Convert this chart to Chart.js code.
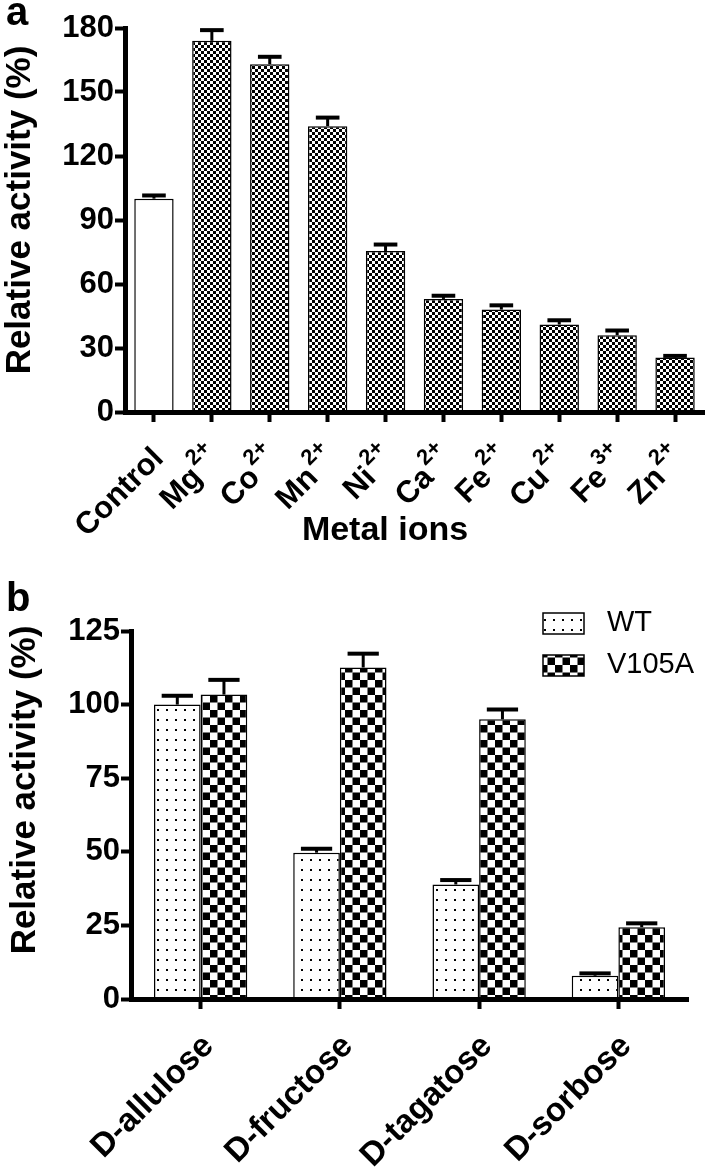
<!DOCTYPE html>
<html>
<head>
<meta charset="utf-8">
<script src="https://cdn.jsdelivr.net/npm/chart.js@4.4.0/dist/chart.umd.min.js"></script>
<style>
  body { margin: 0; background: #fff; }
  canvas { position: absolute; left: 0; }
  #chartA { top: 0; }
  #chartB { top: 575px; }
</style>
</head>
<body>
<canvas id="chartA" width="710" height="575"></canvas>
<canvas id="chartB" width="710" height="600"></canvas>
<script>
// panel a - metal ions
const ionNames = ['Control', 'Mg', 'Co', 'Mn', 'Ni', 'Ca', 'Fe', 'Cu', 'Fe', 'Zn'];
const ionCharges = ['', '2+', '2+', '2+', '2+', '2+', '2+', '2+', '3+', '2+'];
const ionActivity = [100, 174, 163, 134, 75.5, 53, 48, 41, 36, 25.5];
const ionError = [1.5, 5, 3.5, 4, 3, 1.5, 2, 2, 2.2, 0.8];
const ionTicks = [0, 30, 60, 90, 120, 150, 180];

// panel b - substrates
const substrates = ['D-allulose', 'D-fructose', 'D-tagatose', 'D-sorbose'];
const wtActivity = [100, 49.7, 38.9, 7.9];
const wtError = [3, 1.3, 1.5, 0.8];
const mutActivity = [103.4, 112.6, 95, 24.4];
const mutError = [5, 4.7, 3.3, 1.3];
const substrateTicks = [0, 25, 50, 75, 100, 125];

const family = '"Liberation Sans", Arial, Helvetica, sans-serif';
Chart.defaults.font.family = family;
Chart.defaults.color = '#000';

function makePattern(w, h, draw) {
  const c = document.createElement('canvas');
  c.width = w;
  c.height = h;
  const g = c.getContext('2d');
  g.fillStyle = '#fff';
  g.fillRect(0, 0, w, h);
  g.fillStyle = '#000';
  draw(g);
  return g.createPattern(c, 'repeat');
}

const fineChecker = makePattern(6, 6, g => {
  g.fillRect(0, 0, 3, 3);
  g.fillRect(3, 3, 3, 3);
});
const dots = makePattern(9, 10, g => {
  g.fillRect(4, 4, 2, 2);
});
const coarseChecker = makePattern(15, 15, g => {
  g.fillRect(0, 0, 7.5, 7.5);
  g.fillRect(7.5, 7.5, 7.5, 7.5);
});

// upper error bars, placed with the y scale
const errorBars = {
  id: 'errorBars',
  afterDatasetsDraw(chart, args, opts) {
    const ctx = chart.ctx;
    const y = chart.scales.y;
    ctx.save();
    ctx.strokeStyle = '#000';
    chart.data.datasets.forEach((ds, di) => {
      chart.getDatasetMeta(di).data.forEach((bar, i) => {
        const top = y.getPixelForValue(ds.data[i] + ds.errors[i]);
        const half = bar.width * opts.cap / 2;
        ctx.lineWidth = 3;
        ctx.beginPath();
        ctx.moveTo(bar.x, bar.y);
        ctx.lineTo(bar.x, top);
        ctx.stroke();
        ctx.lineWidth = 4;
        ctx.beginPath();
        ctx.moveTo(bar.x - half, top);
        ctx.lineTo(bar.x + half, top);
        ctx.stroke();
      });
    });
    ctx.restore();
  }
};

function drawText(ctx, text, x, y, font, align, rot) {
  ctx.save();
  ctx.translate(x, y);
  if (rot) ctx.rotate(rot);
  ctx.font = font;
  ctx.fillStyle = '#000';
  ctx.textAlign = align || 'left';
  ctx.textBaseline = 'middle';
  ctx.fillText(text, 0, 0);
  ctx.restore();
}

// slanted category labels, with optional superscript
function drawSlanted(chart, names, sups, size, dx, dy) {
  const ctx = chart.ctx;
  const xs = chart.scales.x;
  const base = chart.chartArea.bottom + dy;
  names.forEach((name, i) => {
    const sup = sups ? sups[i] : '';
    ctx.save();
    ctx.translate(xs.getPixelForValue(i) + dx, base);
    ctx.rotate(-Math.PI / 4);
    ctx.fillStyle = '#000';
    ctx.textBaseline = 'alphabetic';
    ctx.font = 'bold ' + size + 'px ' + family;
    const w1 = ctx.measureText(name).width;
    ctx.font = 'bold ' + Math.round(size * 0.7) + 'px ' + family;
    const w2 = sup ? ctx.measureText(sup).width + 2 : 0;
    if (sup) ctx.fillText(sup, -w2 + 2, size * 0.36 - 16);
    ctx.font = 'bold ' + size + 'px ' + family;
    ctx.fillText(name, -(w1 + w2), size * 0.36);
    ctx.restore();
  });
}

const decorA = {
  id: 'decorA',
  afterDraw(chart) {
    const ctx = chart.ctx;
    ctx.save();
    ctx.font = 'bold 40px ' + family;
    ctx.fillText('a', 6, 25);
    ctx.restore();
    drawText(ctx, 'Relative activity (%)', 20, 210, 'bold 35px ' + family, 'center', -Math.PI / 2);
    drawSlanted(chart, ionNames, ionCharges, 31, 3, 40);
    drawText(ctx, 'Metal ions', 385, 531, 'bold 34px ' + family, 'center');
  }
};

const decorB = {
  id: 'decorB',
  afterDraw(chart) {
    const ctx = chart.ctx;
    ctx.save();
    ctx.font = 'bold 40px ' + family;
    ctx.fillText('b', 6, 36);
    ctx.restore();
    drawText(ctx, 'Relative activity (%)', 25, 215, 'bold 35px ' + family, 'center', -Math.PI / 2);
    drawSlanted(chart, substrates, null, 33, 6, 40);

    // legend
    const rows = [[38, 47.5], [80, 90]];
    chart.data.datasets.forEach((ds, i) => {
      ctx.save();
      ctx.fillStyle = ds.backgroundColor;
      ctx.fillRect(543, rows[i][0], 41, 21);
      ctx.strokeStyle = '#000';
      ctx.lineWidth = 1.5;
      ctx.strokeRect(543, rows[i][0], 41, 21);
      ctx.restore();
      drawText(ctx, ds.label, 607, rows[i][1], '29px ' + family, 'left');
    });
  }
};

function yAxis(ticks, width) {
  return {
    min: ticks[0],
    max: ticks[ticks.length - 1],
    afterFit: s => { s.width = width; },
    afterBuildTicks: s => { s.ticks = ticks.map(v => ({ value: v })); },
    ticks: { font: { size: 31, weight: 'bold' }, color: '#000', padding: 1 },
    grid: { drawOnChartArea: false, tickLength: 10, tickWidth: 4, tickColor: '#000' },
    border: { color: '#000', width: 5 }
  };
}

function xAxis(height) {
  return {
    offset: true,
    afterFit: s => { s.height = height; },
    ticks: { display: false },
    grid: { offset: false, drawOnChartArea: false, tickLength: 10, tickWidth: 4, tickColor: '#000' },
    border: { color: '#000', width: 5 }
  };
}

new Chart(document.getElementById('chartA'), {
  type: 'bar',
  data: {
    labels: ionNames.map((n, i) => n + ionCharges[i]),
    datasets: [{
      label: 'Relative activity',
      data: ionActivity,
      errors: ionError,
      backgroundColor: ionActivity.map((v, i) => i === 0 ? '#fff' : fineChecker),
      borderColor: '#000',
      borderWidth: 1.5,
      borderSkipped: false,
      categoryPercentage: 1,
      barPercentage: 0.68
    }]
  },
  options: {
    responsive: false,
    animation: false,
    devicePixelRatio: 1,
    layout: { padding: { top: 28, right: 6, left: 0, bottom: 0 } },
    scales: { x: xAxis(163), y: yAxis(ionTicks, 125) },
    plugins: {
      legend: { display: false },
      tooltip: { enabled: false },
      errorBars: { cap: 0.6 }
    }
  },
  plugins: [errorBars, decorA]
});

new Chart(document.getElementById('chartB'), {
  type: 'bar',
  data: {
    labels: substrates,
    datasets: [{
      label: 'WT',
      data: wtActivity,
      errors: wtError,
      backgroundColor: dots,
      borderColor: '#000',
      borderWidth: 1.5,
      borderSkipped: false
    }, {
      label: 'V105A',
      data: mutActivity,
      errors: mutError,
      backgroundColor: coarseChecker,
      borderColor: '#000',
      borderWidth: 1.5,
      borderSkipped: false
    }]
  },
  options: {
    responsive: false,
    animation: false,
    devicePixelRatio: 1,
    layout: { padding: { top: 56, right: 22, left: 0, bottom: 0 } },
    datasets: { bar: { categoryPercentage: 0.67, barPercentage: 1 } },
    scales: { x: xAxis(176), y: yAxis(substrateTicks, 131) },
    plugins: {
      legend: { display: false },
      tooltip: { enabled: false },
      errorBars: { cap: 0.67 }
    }
  },
  plugins: [errorBars, decorB]
});
</script>
</body>
</html>
